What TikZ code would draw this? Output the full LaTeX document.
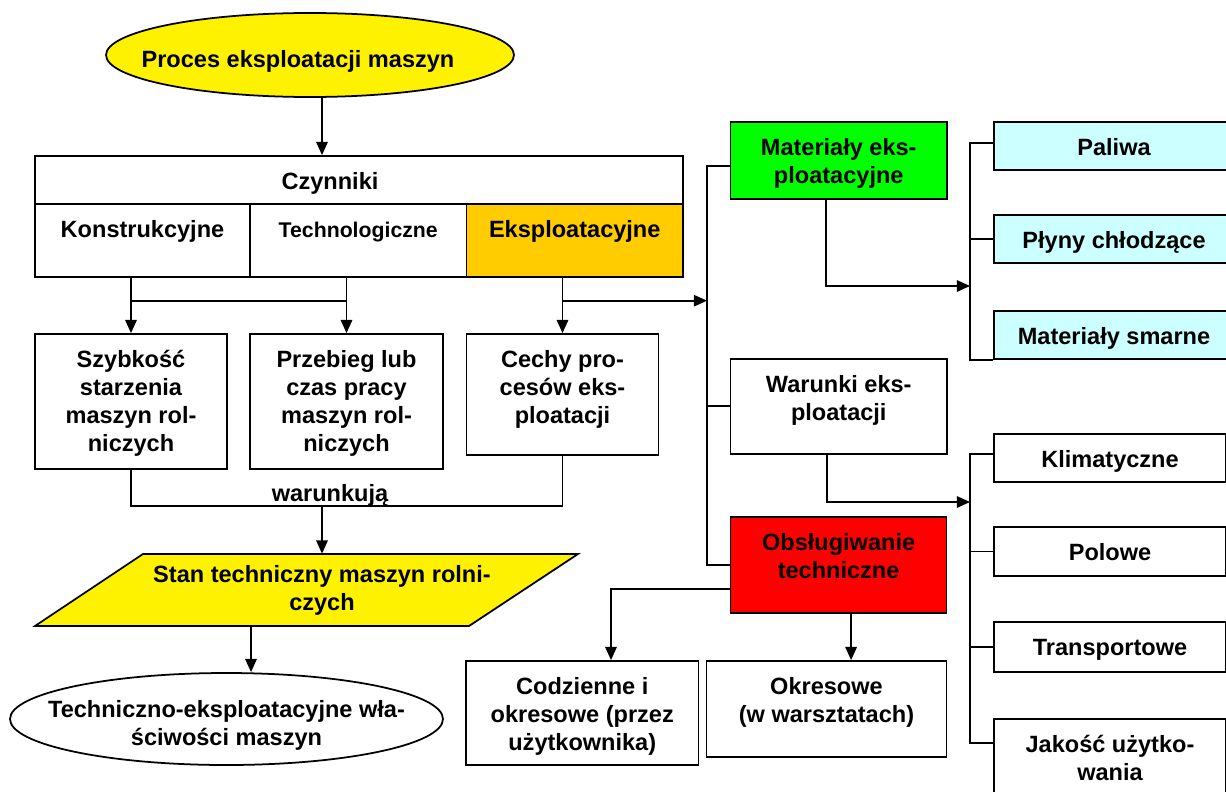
\documentclass[tikz,border=0pt]{standalone}
\usepackage{fontspec}
\setmainfont{Liberation Sans}
\usetikzlibrary{shapes.geometric,arrows.meta}
\newlength{\pxu}
\setlength{\pxu}{0.02cm}
\newcommand{\inbox}[3]{\parbox[c][#2\pxu][t]{#1\pxu}{\centering\rule{0pt}{19pt}#3}}
\newcommand{\tight}[1]{\smash{\makebox[0pt]{\raisebox{-13\pxu}{\begin{tabular}{@{}c@{}}#1\end{tabular}}}}}
\definecolor{eksorange}{HTML}{FFCC00}
\definecolor{matgreen}{HTML}{00FF00}
\definecolor{cyanlt}{HTML}{CCFFFF}

\begin{document}
\begin{tikzpicture}[x=0.02cm,y=0.02cm]
        \tikzstyle{every node}+=[inner sep=0pt,font=\fontsize{13.4}{16}\selectfont\bfseries]
        \tikzstyle{box}=[draw,line width=1pt,fill=white]
        \tikzstyle{wire}=[line width=1pt]
        \tikzstyle{arr}=[line width=1pt,-{Triangle[length=7.5pt,width=6.5pt]}]
        \useasboundingbox (0,0) rectangle (1226,-791);
        % left part
        \node[box,ellipse,fill=yellow,minimum width=408\pxu,minimum height=84\pxu] (proc) at (310,-55) {\tight{Proces eksploatacji maszyn\hspace*{24\pxu}}};
        \node[box] (czyn) at (359,-180) {\inbox{648}{48}{Czynniki\hspace*{58\pxu}}};
        \node[box] (kons) at (142.5,-240.5) {\inbox{215}{73}{Konstrukcyjne}};
        \node[box] (tech) at (358.25,-240.5) {\inbox{216.5}{73}{\fontsize{12.1}{16}\selectfont Technologiczne}};
        \node[box,fill=eksorange] (eksp) at (574.75,-240.5) {\inbox{216.5}{73}{Eksploatacyjne}};
        \node[box] (szyb) at (131,-401.5) {\inbox{192}{135}{Szybkość\\starzenia\\maszyn rol-\\niczych}};
        \node[box] (prze) at (346.5,-401.5) {\inbox{193}{135}{Przebieg lub\\czas pracy\\maszyn rol-\\niczych}};
        \node[box] (cech) at (562.5,-394.5) {\inbox{192}{121}{Cechy pro-\\cesów eks-\\ploatacji}};
        \coordinate (mid) at (322,-506);
        \node[anchor=base] (warlab) at (330,-501) {warunkują};
        \filldraw[wire,fill=yellow] (35,-626) -- (143,-554) -- (578,-554) -- (469,-626) -- cycle;
        \node[minimum height=72\pxu,align=center] (stan) at (322,-590) {Stan techniczny maszyn rolni-\\czych};
        \coordinate (stout) at (251,-626);
        \node[box,ellipse,minimum width=433\pxu,minimum height=92\pxu] (tew) at (226.5,-719) {\tight{Techniczno-eksploatacyjne wła-\\ściwości maszyn}};
        % right part
        \node[box,fill=matgreen] (mat) at (838.75,-160.5) {\inbox{216.5}{77}{Materiały eks-\\ploatacyjne}};
        \node[box] (war) at (838.75,-406.5) {\inbox{216.5}{95}{Warunki eks-\\ploatacji}};
        \node[box,fill=red] (obs) at (838.6,-565) {\inbox{216}{96}{Obsługiwanie\\techniczne}};
        \node[box] (cod) at (582.25,-713) {\inbox{232.5}{104}{Codzienne i\\okresowe (przez\\użytkownika)}};
        \node[box] (okr) at (826.5,-709) {\inbox{240}{96}{Okresowe\\(w warsztatach)}};
        \node[box,fill=cyanlt] (pal) at (1114,-146) {\inbox{240}{48}{Paliwa}};
        \node[box,fill=cyanlt] (ply) at (1114,-239) {\inbox{240}{48}{Płyny chłodzące}};
        \node[box,fill=cyanlt] (smar) at (1114,-335) {\inbox{240}{48}{Materiały smarne}};
        \node[box] (klim) at (1110,-458) {\inbox{232}{48}{Klimatyczne}};
        \node[box] (pol) at (1110,-551.5) {\inbox{232}{49}{Polowe}};
        \node[box] (tra) at (1110,-647) {\inbox{232}{50}{Transportowe}};
        \node[box] (jak) at (1110,-759) {\inbox{232}{80}{Jakość użytko-\\wania}};
        \coordinate (lb) at (707,-300.7);
        \coordinate (rb1) at (970,-286);
        \coordinate (rb2) at (970,-502);
        % connectors
        \draw[arr] (proc.south -| mid) -- (czyn.north -| mid);
        \draw[arr] (szyb.north |- kons.south) -- (szyb.north);
        \draw[arr] (prze.north |- tech.south) -- (prze.north);
        \draw[wire] (szyb.north |- lb) -- (prze.north |- lb);
        \draw[arr] (cech.north |- eksp.south) -- (cech.north);
        \draw[arr] (cech.north |- lb) -- (lb);
        \draw[wire] (szyb.south) -- (szyb.south |- mid) -- (cech.south |- mid) -- (cech.south);
        \draw[arr] (mid) -- (mid |- stan.north);
        \draw[arr] (stout) -- (stout |- tew.north);
        \draw[wire] ([yshift=-0.11cm]mat.west) -- ([yshift=-0.11cm]mat.west -| lb) -- (obs.west -| lb) -- (obs.west);
        \draw[wire] ([yshift=0.01cm]war.west) -- ([yshift=0.01cm]war.west -| lb);
        \draw[arr] ([xshift=-0.26cm]mat.south) |- (rb1);
        \draw[wire] ([yshift=0.06cm]pal.west) -- ([yshift=0.06cm]pal.west -| rb1) -- (smar.south west -| rb1) -- (smar.south west);
        \draw[wire] (ply.west) -- (ply.west -| rb1);
        \draw[arr] ([xshift=-0.24cm]war.south) |- (rb2);
        \draw[wire] ([yshift=0.08cm]klim.west) -- ([yshift=0.08cm]klim.west -| rb2) -- ([yshift=0.32cm]jak.west -| rb2) -- ([yshift=0.32cm]jak.west);
        \draw[wire] (pol.west) -- (pol.west -| rb2);
        \draw[wire] (tra.west) -- (tra.west -| rb2);
        \draw[arr] ([yshift=-0.48cm]obs.west) -| ([xshift=0.575cm]cod.north);
        \draw[arr] ([xshift=0.25cm]obs.south) -- ([xshift=0.25cm]obs.south |- okr.north);
\end{tikzpicture}
\end{document}
